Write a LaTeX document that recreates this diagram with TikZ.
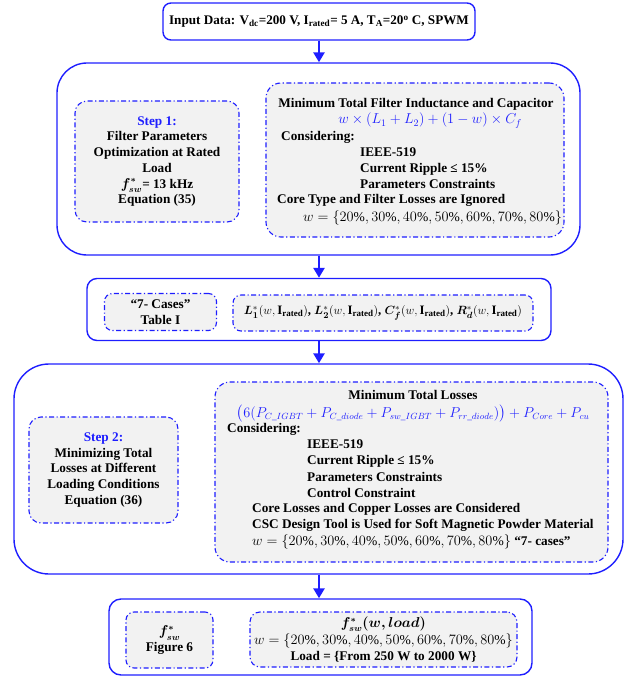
\documentclass[tikz,border=0pt]{standalone}
\usepackage{amsmath,bm}
\usepackage{fontspec}
\setmainfont{Liberation Serif}
\usetikzlibrary{arrows.meta}
\definecolor{bblue}{RGB}{30,30,255}
\definecolor{boxgray}{RGB}{242,242,242}
\tikzset{
 outerbox/.style={draw=bblue, line width=1.4bp, inner sep=0pt},
 innerbox/.style={draw=bblue, fill=boxgray, line width=1.1bp, dash pattern=on 5bp off 2.5bp on 1.2bp off 2.5bp, inner sep=0pt, align=center, font=\fontsize{13.3}{15.8}\selectfont\bfseries},
 txt/.style={inner sep=0pt, font=\fontsize{13.3}{15.8}\selectfont\bfseries, anchor=base},
 txtl/.style={txt, anchor=base west},
 flow/.style={draw=bblue, line width=2.6bp, -{Triangle[width=11bp,length=10bp]}},
}
\newcommand{\Irat}{\text{I}_{\text{rated}}}
\newcommand{\wset}{w=\{20\%,30\%,40\%,50\%,60\%,70\%,80\%\}}
\newcommand{\wsetbig}{{\fontsize{13.6}{15}\selectfont\mdseries$\wset$}}
\begin{document}
\begin{tikzpicture}[x=1bp,y=-1bp]
\useasboundingbox (0,0) rectangle (629,677);
% top
\node[outerbox, rounded corners=8bp, minimum width=312bp, minimum height=37bp, font=\fontsize{13.2}{15}\selectfont\bfseries] (top) at (319,21.5)
 {Input Data: V\textsubscript{dc}=200 V, I\textsubscript{rated}= 5 A, T\textsubscript{A}=20\textsuperscript{o} C, SPWM};
% section 1
\node[outerbox, rounded corners=30bp, minimum width=523bp, minimum height=192bp] (s1) at (318.5,159) {};
\node[innerbox, rounded corners=12bp, minimum width=164bp, minimum height=121bp] (st1) at (157,161.5)
 {\textcolor{bblue}{Step 1:}\\Filter Parameters\\Optimization at Rated\\Load\\{\boldmath$f^*_{sw}$}= 13 kHz\\Equation (35)};
\node[innerbox, rounded corners=15bp, minimum width=298bp, minimum height=154bp] (r1) at (415,160) {};
\node[txt] (r1a) at (416,107.5) {Minimum Total Filter Inductance and Capacitor};
\node[txt, text=bblue, font=\fontsize{14.8}{15}\selectfont] (r1b) at (430,124) {$w\times(L_1+L_2)+(1-w)\times C_f$};
\node[txtl] (r1c) at (281,140.5) {Considering:};
\node[txtl] (r1d) at (360,156.5) {IEEE-519};
\node[txtl] (r1e) at (360,172.5) {Current Ripple ≤ 15\%};
\node[txtl] (r1f) at (360,188.5) {Parameters Constraints};
\node[txtl] (r1g) at (277,203.5) {Core Type and Filter Losses are Ignored};
\node[txtl] (r1h) at (303,221.5) {\wsetbig};
% section 2
\node[outerbox, rounded corners=10bp, minimum width=464bp, minimum height=62bp] (s2) at (319,309.5) {};
\node[innerbox, rounded corners=8bp, minimum width=112bp, minimum height=37bp] (c7) at (160.5,312)
 {“7- Cases”\\Table I};
\node[innerbox, rounded corners=8bp, minimum width=300bp, minimum height=36bp, font=\fontsize{12.9}{15.8}\selectfont\bfseries] (lc) at (383,313)
 {$\bm{L}^*_{\bm{1}}(w,\Irat)$, $\bm{L}^*_{\bm{2}}(w,\Irat)$, $\bm{C}^*_{\bm{f}}(w,\Irat)$, $\bm{R}^*_{\bm{d}}(w,\Irat)$};
% section 3
\node[outerbox, rounded corners=35bp, minimum width=609bp, minimum height=210bp] (s3) at (318.5,469) {};
\node[innerbox, rounded corners=12bp, minimum width=149bp, minimum height=106bp] (st2) at (103.5,470)
 {\textcolor{bblue}{Step 2:}\\Minimizing Total\\Losses at Different\\Loading Conditions\\Equation (36)};
\node[innerbox, rounded corners=15bp, minimum width=393bp, minimum height=180bp] (r2) at (411.5,472) {};
\node[txt] (r2a) at (413,399.5) {Minimum Total Losses};
\node[txt, text=bblue, font=\fontsize{13.4}{15}\selectfont] (r2b) at (413,417)
 {$\big(6(P_{C\_IGBT}+P_{C\_diode}+P_{sw\_IGBT}+P_{rr\_diode})\big)+P_{Core}+P_{cu}$};
\node[txtl] (r2c) at (227,432.5) {Considering:};
\node[txtl] (r2d) at (307,448.5) {IEEE-519};
\node[txtl] (r2e) at (307,464.5) {Current Ripple ≤ 15\%};
\node[txtl] (r2f) at (307,481.5) {Parameters Constraints};
\node[txtl] (r2g) at (307,497.5) {Control Constraint};
\node[txtl] (r2h) at (252,512.5) {Core Losses and Copper Losses are Considered};
\node[txtl] (r2i) at (252,528.5) {CSC Design Tool is Used for Soft Magnetic Powder Material};
\node[txtl] (r2j) at (252,545.5) {\wsetbig{} “7- cases”};
% section 4
\node[outerbox, rounded corners=12bp, minimum width=423bp, minimum height=76bp] (s4) at (320.5,637) {};
\node[innerbox, rounded corners=8bp, minimum width=87bp, minimum height=56bp] (fs) at (169.5,640)
 {{\boldmath$f^*_{sw}$}\\Figure 6};
\node[innerbox, rounded corners=10bp, minimum width=267bp, minimum height=55bp] (fw) at (383.5,639.5)
 {{\boldmath$f^*_{sw}(w,load)$}\\[1.5bp]\wsetbig\\Load = \{From 250 W to 2000 W\}};
% arrows
\draw[flow] (top.south) -- (top.south |- s1.north);
\draw[flow] (top.south |- s1.south) -- (top.south |- s2.north);
\draw[flow] (top.south |- s2.south) -- (top.south |- s3.north);
\draw[flow] (top.south |- s3.south) -- (top.south |- s4.north);
\end{tikzpicture}
\end{document}
